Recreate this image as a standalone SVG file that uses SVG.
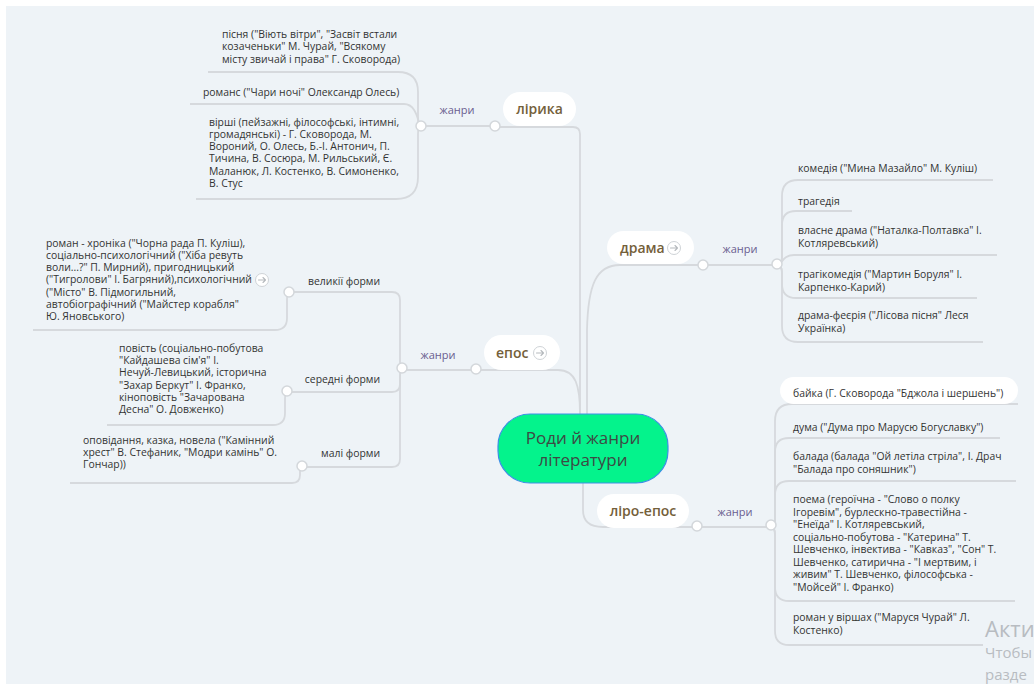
<svg xmlns="http://www.w3.org/2000/svg" width="1034" height="684" viewBox="0 0 1034 684">
<style>
.ln{fill:none;stroke:#d6d9dd;stroke-width:1.8}
.dot{fill:#fff;stroke:#d3d7db;stroke-width:1.5}
.pill{fill:#fff}
.t{font-family:"Open Sans","Noto Sans",sans-serif;font-size:10.4px;fill:#333}
.r{text-anchor:end}
.lbl{font-family:"Open Sans","Noto Sans",sans-serif;font-size:11px;fill:#6a5d8f;text-anchor:middle}
.nt{font-family:"Open Sans","Noto Sans",sans-serif;font-size:14px;font-weight:600;fill:#74603a}
.ct{font-family:"Open Sans","Noto Sans",sans-serif;font-size:17px;fill:#3d4a44;text-anchor:middle}
.ic{fill:#fff;stroke:#cfd3d7;stroke-width:1}
.ia{fill:none;stroke:#b5b9bd;stroke-width:1.1;stroke-linecap:round;stroke-linejoin:round}
.wm{font-family:"Open Sans","Noto Sans",sans-serif;fill:#b8bcc1}
</style>
<rect width="1034" height="684" fill="#fff"/>
<rect x="6" y="6" width="1028" height="678" fill="#eef3f7"/>

<g id="connectors">
  <path class="ln" d="M580,414 L580,134 Q580,127 573,127 L495,127"/>
  <path class="ln" d="M587,414 L587,330 C588,285 596,265 620,265 L703,265"/>
  <path class="ln" d="M580,414 C580,386 576,370 558,370 L476,370"/>
  <path class="ln" d="M583,483 L583,510 C583,522 590,527 603,527 L697,527"/>
  <path class="ln" d="M495,126 L421,126"/>
  <path class="ln" d="M703,265 L777,265"/>
  <path class="ln" d="M476,370 L402,370"/>
  <path class="ln" d="M697,527 L771,527"/>
  <path class="ln" d="M421,126 Q418,126 418,118 L418,92 Q418,72 398,72 L208,72"/>
  <path class="ln" d="M421,126 C418,126 418,104 404,104 L190,104"/>
  <path class="ln" d="M421,126 Q418,126 418,134 L418,177 Q418,199 396,199 L196,199"/>
  <path class="ln" d="M777,265 Q782,265 782,257 L782,196 Q782,180 798,180 L993,180"/>
  <path class="ln" d="M777,265 Q782,265 782,257 L782,225 Q782,211 796,211 L852,211"/>
  <path class="ln" d="M777,265 C782,265 782,255 794,255 L997,255"/>
  <path class="ln" d="M777,265 Q782,265 782,273 L782,284 Q782,298 796,298 L977,298"/>
  <path class="ln" d="M777,265 Q782,265 782,273 L782,326 Q782,342 798,342 L983,342"/>
  <path class="ln" d="M402,370 Q400,370 400,362 L400,300 Q400,292 392,292 L289,292"/>
  <path class="ln" d="M402,370 Q400,370 400,377 L400,384 Q400,392 392,392 L287,392"/>
  <path class="ln" d="M402,370 Q400,370 400,377 L400,459 Q400,467 392,467 L302,467"/>
  <path class="ln" d="M289,292 Q287,292 287,300 L287,318 Q287,330 275,330 L33,330"/>
  <path class="ln" d="M287,392 Q285,392 285,399 L285,413 Q285,425 273,425 L107,425"/>
  <path class="ln" d="M302,467 Q300,467 300,472 L300,475 Q300,483 292,483 L70,483"/>
  <path class="ln" d="M771,527 Q775,527 775,519 L775,421 Q775,404 792,404 L1018,404"/>
  <path class="ln" d="M771,527 Q775,527 775,519 L775,452 Q775,438 789,438 L1000,438"/>
  <path class="ln" d="M771,527 Q775,527 775,519 L775,495 Q775,481 789,481 L1016,481"/>
  <path class="ln" d="M771,527 Q775,527 775,535 L775,587 Q775,601 789,601 L1015,601"/>
  <path class="ln" d="M771,527 Q775,527 775,535 L775,631 Q775,645 789,645 L983,645"/>
  <circle class="dot" cx="495" cy="126" r="5"/>
  <circle class="dot" cx="421" cy="126" r="5"/>
  <circle class="dot" cx="703" cy="265" r="5"/>
  <circle class="dot" cx="777" cy="264" r="5"/>
  <circle class="dot" cx="476" cy="369" r="5"/>
  <circle class="dot" cx="402" cy="368" r="5"/>
  <circle class="dot" cx="697" cy="526" r="5"/>
  <circle class="dot" cx="771" cy="525" r="5"/>
  <circle class="dot" cx="289" cy="292" r="5"/>
  <circle class="dot" cx="287" cy="391" r="5"/>
  <circle class="dot" cx="302" cy="466" r="5"/>
  <text class="lbl" x="457" y="114">жанри</text>
  <text class="lbl" x="740" y="253">жанри</text>
  <text class="lbl" x="438" y="359">жанри</text>
  <text class="lbl" x="735" y="516">жанри</text>
</g>

<g id="center">
  <rect x="498" y="414" width="170" height="69" rx="32" fill="#04f38c" stroke="#3d8fe6" stroke-width="1.2"/>
  <text class="ct" x="583" y="444">Роди й жанри</text>
  <text class="ct" x="583" y="466">літератури</text>
</g>

<g id="lirika">
  <rect class="pill" x="503" y="92" width="73" height="34" rx="17"/>
  <text class="nt" x="539.5" y="114" text-anchor="middle">лірика</text>
</g>
<g id="drama">
  <rect class="pill" x="607" y="231" width="87" height="33" rx="16.5"/>
  <text class="nt" x="620" y="253">драма</text>
  <circle class="ic" cx="674" cy="248" r="6.5"/>
  <path class="ia" d="M670.5,248 H677.5 M675,245.5 L677.5,248 L675,250.5"/>
</g>
<g id="epos">
  <rect class="pill" x="484" y="335" width="76" height="35" rx="17.5"/>
  <text class="nt" x="496" y="358">епос</text>
  <circle class="ic" cx="540" cy="353" r="6.5"/>
  <path class="ia" d="M536.5,353 H543.5 M541,350.5 L543.5,353 L541,355.5"/>
</g>
<g id="liroepos">
  <rect class="pill" x="597" y="494" width="92" height="34" rx="17"/>
  <text class="nt" x="643" y="516" text-anchor="middle">ліро-епос</text>
</g>

<g id="lirika-pisnia">
  <text class="t" x="222" y="37.5">пісня ("Віють вітри", "Засвіт встали</text>
  <text class="t" x="222" y="50">козаченьки" М. Чурай, "Всякому</text>
  <text class="t" x="222" y="62.5">місту звичай і права" Г. Сковорода)</text>
</g>
<g id="lirika-romans">
  <text class="t" x="203" y="95.5">романс ("Чари ночі" Олександр Олесь)</text>
</g>
<g id="lirika-virshi">
  <text class="t" x="209" y="125.5">вірші (пейзажні, філософські, інтимні,</text>
  <text class="t" x="209" y="137.8">громадянські) - Г. Сковорода, М.</text>
  <text class="t" x="209" y="150">Вороний, О. Олесь, Б.-І. Антонич,  П.</text>
  <text class="t" x="209" y="162.3">Тичина, В. Сосюра, М. Рильський, Є.</text>
  <text class="t" x="209" y="174.5">Маланюк, Л. Костенко, В. Симоненко,</text>
  <text class="t" x="209" y="186.8">В. Стус</text>
</g>

<g id="drama-komedia"><text class="t" x="798" y="172">комедія ("Мина Мазайло" М. Куліш)</text></g>
<g id="drama-tragedia"><text class="t" x="798" y="205">трагедія</text></g>
<g id="drama-vlasne">
  <text class="t" x="798" y="234">власне драма ("Наталка-Полтавка" І.</text>
  <text class="t" x="798" y="246.5">Котляревський)</text>
</g>
<g id="drama-tragikomedia">
  <text class="t" x="798" y="278">трагікомедія ("Мартин Боруля" І.</text>
  <text class="t" x="798" y="290.5">Карпенко-Карий)</text>
</g>
<g id="drama-feeria">
  <text class="t" x="798" y="319">драма-феєрія ("Лісова пісня" Леся</text>
  <text class="t" x="798" y="331.5">Українка)</text>
</g>

<g id="epos-velyki"><text class="t r" x="380" y="285">великії форми</text></g>
<g id="epos-roman">
  <text class="t" x="46" y="246.5">роман - хроніка ("Чорна рада П. Куліш),</text>
  <text class="t" x="46" y="258.8">соціально-психологічний ("Хіба ревуть</text>
  <text class="t" x="46" y="271">воли...?" П. Мирний), пригодницький</text>
  <text class="t" x="46" y="283.3">("Тигролови" І. Багряний),психологічний</text>
  <text class="t" x="46" y="295.5">("Місто" В. Підмогильний,</text>
  <text class="t" x="46" y="307.8">автобіографічний ("Майстер корабля"</text>
  <text class="t" x="46" y="320">Ю. Яновського)</text>
  <circle class="ic" cx="262" cy="280" r="6.5"/>
  <path class="ia" d="M258.5,280 H265.5 M263,277.5 L265.5,280 L263,282.5"/>
</g>
<g id="epos-seredni"><text class="t r" x="380" y="383">середні форми</text></g>
<g id="epos-povist">
  <text class="t" x="119" y="352">повість (соціально-побутова</text>
  <text class="t" x="119" y="364.2">"Кайдашева сім'я" І.</text>
  <text class="t" x="119" y="376.4">Нечуй-Левицький, історична</text>
  <text class="t" x="119" y="388.6">"Захар Беркут" І. Франко,</text>
  <text class="t" x="119" y="400.8">кіноповість "Зачарована</text>
  <text class="t" x="119" y="413">Десна" О. Довженко)</text>
</g>
<g id="epos-mali"><text class="t r" x="380" y="457">малі форми</text></g>
<g id="epos-opovidannia">
  <text class="t" x="83" y="444">оповідання, казка, новела ("Камінний</text>
  <text class="t" x="83" y="456.2">хрест" В. Стефаник, "Модри камінь" О.</text>
  <text class="t" x="83" y="468.4">Гончар))</text>
</g>

<g id="liro-baika">
  <rect class="pill" x="780" y="377" width="238" height="27" rx="13.5"/>
  <text class="t" x="793" y="397">байка (Г. Сковорода "Бджола і шершень")</text>
</g>
<g id="liro-duma"><text class="t" x="793" y="431">дума ("Дума про Марусю Богуславку")</text></g>
<g id="liro-balada">
  <text class="t" x="793" y="460">балада (балада "Ой летіла стріла", І. Драч</text>
  <text class="t" x="793" y="472.5">"Балада про соняшник")</text>
</g>
<g id="liro-poema">
  <text class="t" x="793" y="503">поема (героїчна - "Слово о полку</text>
  <text class="t" x="793" y="515.5">Ігоревім", бурлескно-травестійна -</text>
  <text class="t" x="793" y="528">"Енеїда" І. Котляревський,</text>
  <text class="t" x="793" y="540.5">соціально-побутова - "Катерина" Т.</text>
  <text class="t" x="793" y="553">Шевченко, інвектива - "Кавказ", "Сон" Т.</text>
  <text class="t" x="793" y="565.5">Шевченко, сатирична - "І мертвим, і</text>
  <text class="t" x="793" y="578">живим" Т. Шевченко, філософська -</text>
  <text class="t" x="793" y="590.5">"Мойсей" І. Франко)</text>
</g>
<g id="liro-roman">
  <text class="t" x="793" y="621">роман у віршах ("Маруся Чурай" Л.</text>
  <text class="t" x="793" y="633.5">Костенко)</text>
</g>

<g id="watermark">
  <text class="wm" x="985" y="637" font-size="22">Акти</text>
  <text class="wm" x="985" y="658" font-size="15">Чтобы</text>
  <text class="wm" x="985" y="680" font-size="15">разде</text>
</g>
</svg>
